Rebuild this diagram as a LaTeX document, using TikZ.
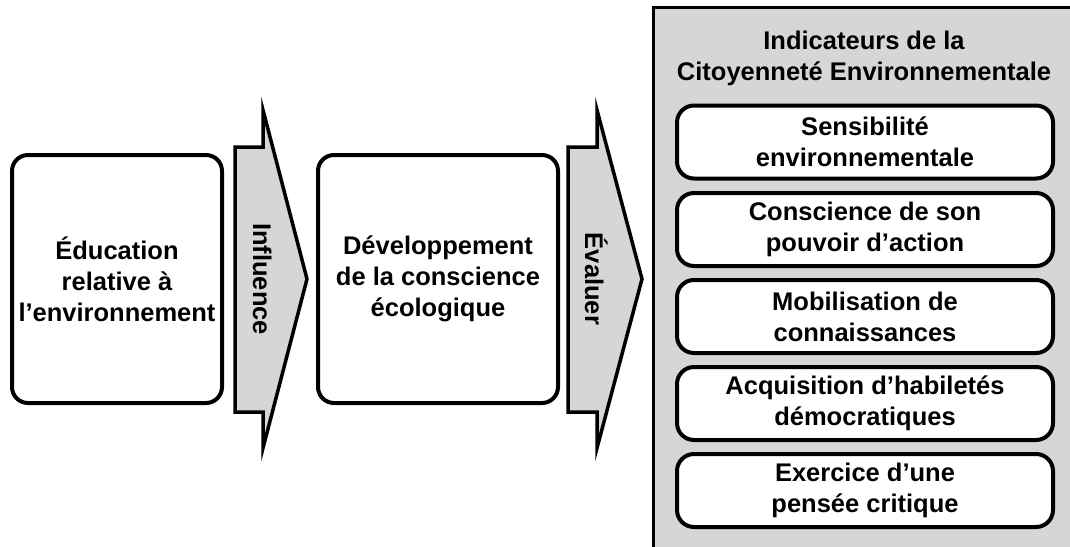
\documentclass[tikz,border=0pt]{standalone}
\usepackage{fontspec}
\setmainfont{Liberation Sans}
\definecolor{panel_gray}{RGB}{214, 214, 214}
\tikzstyle{box}=[rectangle,rounded corners=16pt,fill=white,draw=black,
  line width=4pt,align=center,inner sep=0pt,minimum width=210pt,minimum height=248pt]
\tikzstyle{item}=[rectangle,rounded corners=17pt,fill=white,draw=black,
  line width=4pt,align=center,inner sep=0pt,minimum width=376pt,minimum height=73pt]
\tikzstyle{flow}=[fill=panel_gray,draw=black,line width=3.5pt,line join=miter]
\tikzstyle{vlabel}=[rotate=-90,inner sep=0pt,text height=18pt,text depth=0pt]
\tikzstyle{none}=[align=center,inner sep=0pt]

\begin{document}
\begin{tikzpicture}[x=1pt, y=-1pt, font=\bfseries\fontsize{25.5pt}{31pt}\selectfont]
            \useasboundingbox (0, 0) rectangle (1070, 546);
            \draw [fill=panel_gray, line width=3pt] (653, 7) rectangle (1090, 570);
            \draw [style=flow] (235, 147) -- (263, 147) -- (263, 110) -- (307, 279)
                -- (263, 448) -- (263, 412) -- (235, 412) -- cycle;
            \draw [style=flow] (568, 147) -- (597, 147) -- (597, 110) -- (642, 279)
                -- (597, 448) -- (597, 412) -- (568, 412) -- cycle;
            \node [style=box] (0) at (117, 279) {Éducation\\relative à\\l’environnement};
            \node [style=vlabel] (1) at (262, 279) {Influence};
            \node [style=box, minimum width=240pt] (2) at (438, 279) {Développement\\de la conscience\\écologique};
            \node [style=vlabel] (3) at (594, 279) {Évaluer};
            \node [style=none] (4) at (864, 58) {Indicateurs de la\\Citoyenneté Environnementale};
            \node [style=item] (5) at (865, 142) {Sensibilité\\environnementale};
            \node [style=item] (6) at (865, 229.5) {Conscience de son\\pouvoir d’action};
            \node [style=item] (7) at (865, 316.5) {Mobilisation de\\connaissances};
            \node [style=item] (8) at (865, 403.5) {Acquisition d’habiletés\\démocratiques};
            \node [style=item] (9) at (865, 490.5) {Exercice d’une\\pensée critique};
    \end{tikzpicture}
\end{document}
